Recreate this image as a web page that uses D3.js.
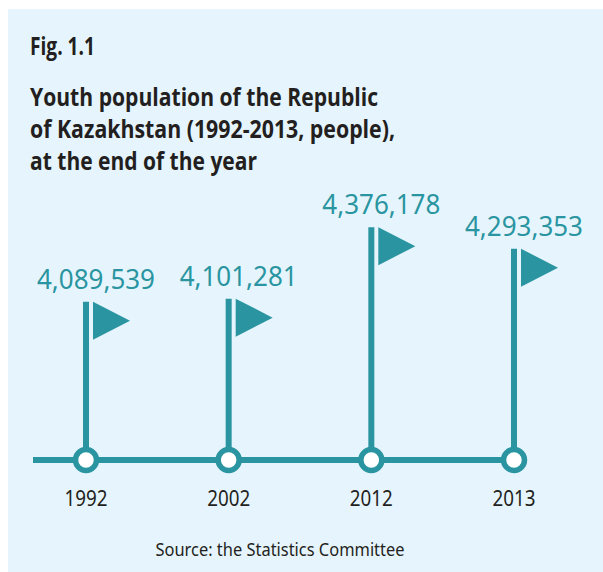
<!DOCTYPE html>
<html>
<head>
<meta charset="utf-8">
<script src="https://cdn.jsdelivr.net/npm/d3@7"></script>
<style>
  html, body { margin: 0; padding: 0; background: #ffffff; }
  svg { display: block; }
</style>
</head>
<body>
<script>
// ---- data ----
const years = ["1992", "2002", "2012", "2013"];
const population = [4089539, 4101281, 4376178, 4293353];
const titleLines = ["Youth population of the Republic", "of Kazakhstan (1992-2013, people),", "at the end of the year"];
const figLabel = "Fig. 1.1";
const sourceText = "Source: the Statistics Committee";

// ---- layout ----
const W = 603, H = 572;
const teal = "#2a95a1";
const dark = "#231f20";
const axisY = 460;

const svg = d3.select("body").append("svg").attr("width", W).attr("height", H);

svg.append("rect").attr("x", 8).attr("y", 9).attr("width", W - 8).attr("height", H - 9)
  .attr("fill", "#e6f5fd");

const fontBold = "'Open Sans', 'Noto Sans', sans-serif";
const fontReg = "'Noto Sans', 'Open Sans', sans-serif";

svg.append("text").attr("x", 30).attr("y", 55).text(figLabel)
  .attr("font-family", fontBold).attr("font-weight", 700).attr("font-size", 25.5)
  .attr("fill", dark).attr("textLength", 65).attr("lengthAdjust", "spacingAndGlyphs");

const titleWidths = [348, 365, 227];
svg.selectAll("text.title").data(titleLines).join("text").attr("class", "title")
  .attr("x", 30).attr("y", (d, i) => 106 + i * 32)
  .attr("font-family", fontBold).attr("font-weight", 700).attr("font-size", 25.5)
  .attr("fill", dark)
  .attr("textLength", (d, i) => titleWidths[i]).attr("lengthAdjust", "spacingAndGlyphs")
  .text(d => d);

// scales
const x = d3.scalePoint().domain(years).range([86, 514]);
const y = d3.scaleLinear().domain([4000000, 4400000]).range([325, 221]);

const data = years.map((yr, i) => ({ year: yr, value: population[i] }));

// axis line
svg.append("line").attr("x1", 33).attr("x2", 527).attr("y1", axisY).attr("y2", axisY)
  .attr("stroke", teal).attr("stroke-width", 6);

// poles
svg.selectAll("line.pole").data(data).join("line").attr("class", "pole")
  .attr("x1", d => x(d.year)).attr("x2", d => x(d.year))
  .attr("y1", d => y(d.value)).attr("y2", axisY)
  .attr("stroke", teal).attr("stroke-width", 6);

// flags
svg.selectAll("path.flag").data(data).join("path").attr("class", "flag")
  .attr("d", d => {
    const px = x(d.year), py = y(d.value);
    return `M${px + 7},${py} L${px + 44},${py + 19} L${px + 7},${py + 38} Z`;
  })
  .attr("fill", teal);

// circles
svg.selectAll("circle.node").data(data).join("circle").attr("class", "node")
  .attr("cx", d => x(d.year)).attr("cy", axisY).attr("r", 10.5)
  .attr("fill", "#ffffff").attr("stroke", teal).attr("stroke-width", 5.5);

// value labels
const fmt = d3.format(",");
svg.selectAll("text.val").data(data).join("text").attr("class", "val")
  .attr("x", d => x(d.year) + 10).attr("y", d => y(d.value) - 13)
  .attr("text-anchor", "middle")
  .attr("font-family", fontReg).attr("font-size", 27).attr("fill", teal)
  .attr("textLength", 118).attr("lengthAdjust", "spacingAndGlyphs")
  .text(d => fmt(d.value));

// year labels
svg.selectAll("text.year").data(data).join("text").attr("class", "year")
  .attr("x", d => x(d.year)).attr("y", 506)
  .attr("text-anchor", "middle")
  .attr("font-family", fontReg).attr("font-size", 22).attr("fill", dark)
  .attr("textLength", 43).attr("lengthAdjust", "spacingAndGlyphs")
  .text(d => d.year);

// source
svg.append("text").attr("x", 280).attr("y", 556).attr("text-anchor", "middle")
  .attr("font-family", fontReg).attr("font-size", 18).attr("fill", dark)
  .attr("textLength", 249).attr("lengthAdjust", "spacingAndGlyphs")
  .text(sourceText);
</script>
</body>
</html>
